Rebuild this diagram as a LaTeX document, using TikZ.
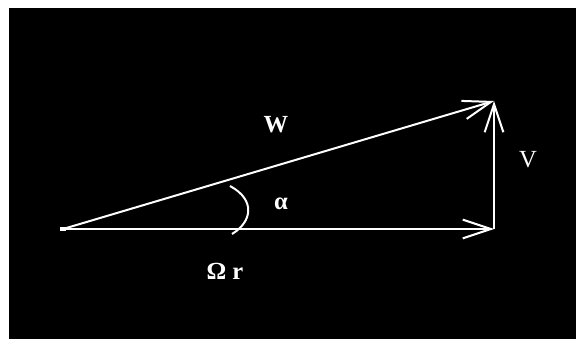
\documentclass[tikz,border=0pt]{standalone}
\usepackage{fontspec}
\setmainfont{Liberation Serif}
\usetikzlibrary{arrows.meta}

\begin{document}
\begin{tikzpicture}[
        x=0.03cm, y=-0.03cm,
        vec/.style={white, line width=1.7pt, -{Straight Barb[length=24pt, width=16pt, line width=1.7pt]}},
        lbl/.style={white, font=\fontsize{21}{24}\selectfont, inner sep=0pt}
    ]

        % frame
        \useasboundingbox (0,0) rectangle (576,339);
        \fill[white] (0,0) rectangle (576,339);
        \fill[black] (9,8) rectangle (576,339);

        % velocity triangle
        \coordinate (o) at (63,229);
        \coordinate (u) at (494,229);
        \coordinate (t) at (494,101);
        \draw[vec] (o) -- (u);
        \draw[vec] (u) -- (t);
        \draw[vec] (o) -- (t);
        \fill[white] (o) ++(-3,-2) rectangle ++(6,4);
        \draw[white, line width=1.7pt] (230,186) .. controls (256,200) and (252,222) .. (232,234);

        \node[lbl] (w) at (276,125) {\textbf{W}};
        \node[lbl] (al) at (281,204) {\textbf{α}};
        \node[lbl] (v) at (528,160) {V};
        \node[lbl] (om) at (225,271) {\textbf{Ω r}};
    \end{tikzpicture}
\end{document}
